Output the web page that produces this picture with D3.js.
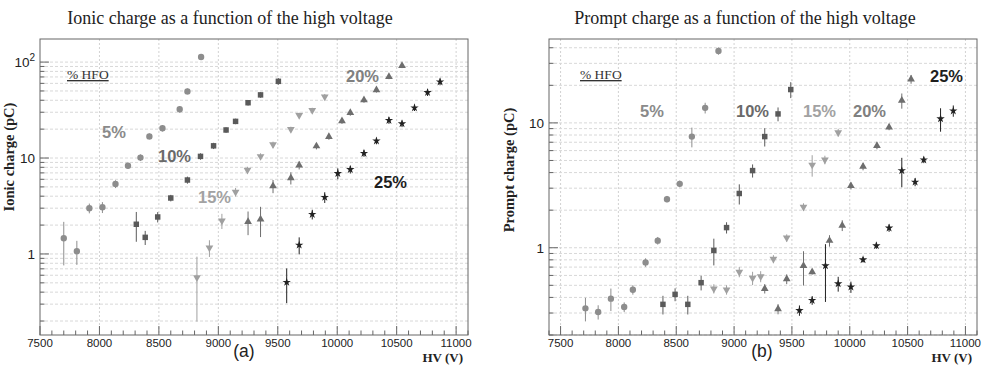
<!DOCTYPE html>
<html><head><meta charset="utf-8">
<script src="https://cdn.jsdelivr.net/npm/d3@7"></script>
<style>
html,body{margin:0;padding:0;background:#fff;}
svg{display:block;}
</style></head>
<body>
<svg id="c" width="982" height="373"></svg>
<script>
// ---------- DATA ----------
const groups = ["5%", "10%", "15%", "20%", "25%"];
const xTicks = [7500, 8000, 8500, 9000, 9500, 10000, 10500, 11000];

// Ionic charge (a)
const ionicV5  = [7700, 7810, 7915, 8025, 8135, 8240, 8345, 8420, 8530, 8675, 8740, 8855];
const ionicQ5  = [1.46, 1.07, 3.0, 3.07, 5.36, 8.3, 10.1, 16.8, 20.4, 32.2, 49.5, 113];
const ionicE5  = [0.7, 0.3, 0.35, 0.4, 0.5, 0.6, 0.8, 1.2, 1.5, 2.5, 3.5, 6];
const ionicV10 = [8310, 8385, 8490, 8600, 8740, 8850, 8960, 9065, 9145, 9250, 9355, 9505];
const ionicQ10 = [2.04, 1.49, 2.43, 3.83, 5.9, 10.4, 13.4, 19.6, 24.1, 37.7, 45.5, 63];
const ionicE10 = [0.7, 0.25, 0.3, 0.3, 0.5, 0.8, 1, 1.3, 1.6, 2.5, 3, 5];
const ionicV15 = [8820, 8925, 9030, 9145, 9245, 9355, 9460, 9610, 9680, 9790, 9895];
const ionicQ15 = [0.567, 1.16, 2.22, 4.42, 7.5, 10.4, 13.8, 19.9, 27.9, 31.4, 43.5];
const ionicE15 = [0.37, 0.23, 0.4, 0.45, 0.6, 0.8, 1, 1.3, 1.8, 2, 3];
const ionicV20 = [9250, 9355, 9460, 9610, 9680, 9825, 9930, 10040, 10110, 10225, 10330, 10435, 10545];
const ionicQ20 = [2.17, 2.30, 5.1, 6.2, 8.4, 13.3, 16.7, 24.3, 29.6, 40.2, 51.1, 70.3, 91.5];
const ionicE20 = [0.6, 0.8, 0.8, 0.9, 0.8, 1, 1.2, 1.6, 2, 2.5, 3, 4, 5];
const ionicV25 = [9575, 9680, 9790, 9895, 10005, 10110, 10225, 10330, 10435, 10545, 10650, 10760, 10865];
const ionicQ25 = [0.507, 1.24, 2.59, 3.9, 6.9, 7.6, 11.2, 15.1, 24.7, 22.8, 33.4, 48.3, 62.3];
const ionicE25 = [0.2, 0.25, 0.3, 0.5, 0.9, 0.7, 0.9, 1.2, 2, 1.8, 2.5, 4, 5];

// Prompt charge (b)
const promptV5  = [7715, 7825, 7935, 8050, 8125, 8235, 8340, 8420, 8530, 8635, 8750, 8865];
const promptQ5  = [0.327, 0.306, 0.391, 0.335, 0.461, 0.763, 1.14, 2.45, 3.25, 7.77, 13.2, 37.7];
const promptE5  = [0.07, 0.04, 0.08, 0.03, 0.04, 0.06, 0.08, 0.15, 0.2, 1.4, 1.3, 2.5];
const promptV10 = [8385, 8490, 8600, 8715, 8825, 8935, 9045, 9160, 9265, 9380, 9490];
const promptQ10 = [0.352, 0.423, 0.352, 0.525, 0.952, 1.45, 2.72, 4.15, 7.77, 11.8, 18.5];
const promptE10 = [0.06, 0.05, 0.06, 0.07, 0.23, 0.15, 0.5, 0.5, 1.3, 1.5, 2.7];
const promptV15 = [8825, 8935, 9045, 9160, 9230, 9340, 9455, 9600, 9675, 9785, 9900];
const promptQ15 = [0.47, 0.461, 0.64, 0.572, 0.589, 0.812, 1.20, 2.12, 4.61, 5.06, 8.37];
const promptE15 = [0.04, 0.04, 0.06, 0.07, 0.06, 0.06, 0.08, 0.15, 0.9, 0.4, 0.6];
const promptV20 = [9265, 9380, 9455, 9600, 9675, 9825, 9935, 10010, 10115, 10235, 10340, 10450, 10530];
const promptQ20 = [0.47, 0.323, 0.561, 0.718, 0.64, 1.14, 1.51, 3.13, 4.47, 6.55, 9.24, 15.1, 22.4];
const promptE20 = [0.04, 0.03, 0.05, 0.22, 0.03, 0.12, 0.15, 0.2, 0.3, 0.4, 0.5, 2.1, 1.8];
const promptV25 = [9565, 9675, 9790, 9900, 10010, 10115, 10230, 10340, 10450, 10565, 10640, 10785, 10895];
const promptQ25 = [0.315, 0.379, 0.718, 0.515, 0.485, 0.802, 1.04, 1.44, 4.15, 3.36, 5.06, 10.8, 12.5];
const promptE25 = [0.03, 0.03, 0.35, 0.07, 0.05, 0.04, 0.06, 0.1, 1.1, 0.25, 0.3, 2.3, 1.3];

// ---------- STYLE ----------
const groupColors = ["#8d8d8d", "#5a5a5a", "#a0a0a0", "#6e6e6e", "#222222"];
const labelColors = ["#8a8a8a", "#6a6a6a", "#a2a2a2", "#808080", "#1e1e1e"];
const symbols = [
  {type: d3.symbolCircle, size: 32, rot: 0},
  {type: d3.symbolSquare, size: 30, rot: 0},
  {type: d3.symbolTriangle, size: 26, rot: 180},
  {type: d3.symbolTriangle, size: 26, rot: 0},
  {type: d3.symbolStar, size: 22, rot: 0}
];

const svg = d3.select("#c");

function pack(Vs, Qs, Es) {
  return Vs.map((V, g) => V.map((v, i) => ({v, q: Qs[g][i], e: Es[g][i]})));
}

function drawPanel(cfg) {
  const {x0, x1, y0, y1, xDom, yDom, series, title, titleX, ylabel, ylabelX, ylabelY,
         panelTag, tagX, yMajors, yLabelFmt, hfoX, labels} = cfg;
  const x = d3.scaleLinear().domain(xDom).range([x0, x1]);
  const y = d3.scaleLog().domain(yDom).range([y1, y0]);
  const g = svg.append("g");

  // grid - vertical
  g.selectAll(".gx").data(xTicks.filter(t => x(t) > x0 + 1 && x(t) < x1 - 1)).enter()
    .append("line").attr("x1", d => x(d)).attr("x2", d => x(d))
    .attr("y1", y0).attr("y2", y1)
    .attr("stroke", "#d2d2d2").attr("stroke-width", 1).attr("stroke-dasharray", "2,2");

  // minor log positions
  const logTicks = [];
  for (let k = -2; k <= 3; k++) for (let m = 1; m <= 9; m++) {
    const val = m * Math.pow(10, k);
    if (val >= yDom[0] && val <= yDom[1]) logTicks.push({val, major: m === 1});
  }
  g.selectAll(".gy").data(logTicks).enter()
    .append("line").attr("x1", x0).attr("x2", x1)
    .attr("y1", d => y(d.val)).attr("y2", d => y(d.val))
    .attr("stroke", "#d8d8d8").attr("stroke-width", 1).attr("stroke-dasharray", "3,2");

  // frame
  g.append("rect").attr("x", x0).attr("y", y0).attr("width", x1 - x0).attr("height", y1 - y0)
    .attr("fill", "none").attr("stroke", "#666").attr("stroke-width", 1);

  // x axis ticks (inside, upward)
  const xMinor = d3.range(xDom[0], xDom[1] + 1, 100).filter(t => t >= xDom[0] && t <= xDom[1]);
  g.selectAll(".xt").data(xMinor).enter().append("line")
    .attr("x1", d => x(d)).attr("x2", d => x(d))
    .attr("y1", y1).attr("y2", d => y1 - (d % 500 === 0 ? 9 : 4.5))
    .attr("stroke", "#666").attr("stroke-width", 1);
  g.selectAll(".xl").data(xTicks).enter().append("text")
    .attr("x", d => x(d)).attr("y", y1 + 12)
    .attr("text-anchor", "middle").attr("font-family", "Liberation Sans, Arial, sans-serif")
    .attr("font-size", 11.5).attr("fill", "#222").text(d => d);

  // y axis ticks (inside, rightward)
  g.selectAll(".yt").data(logTicks).enter().append("line")
    .attr("x1", x0).attr("x2", d => x0 + (d.major ? 9 : 4.5))
    .attr("y1", d => y(d.val)).attr("y2", d => y(d.val))
    .attr("stroke", "#666").attr("stroke-width", 1);
  yMajors.forEach(m => {
    const t = g.append("text").attr("x", x0 - 5).attr("y", y(m) + 5)
      .attr("text-anchor", "end").attr("font-family", "Liberation Sans, Arial, sans-serif")
      .attr("font-size", 13.5).attr("fill", "#222");
    yLabelFmt(t, m);
  });

  // titles
  svg.append("text").attr("x", titleX).attr("y", 24).attr("text-anchor", "middle")
    .attr("font-family", "Liberation Serif, Times New Roman, serif").attr("font-size", 18)
    .attr("fill", "#222").text(title);
  svg.append("text").attr("transform", `translate(${ylabelX},${ylabelY}) rotate(-90)`)
    .attr("text-anchor", "middle").attr("font-family", "Liberation Serif, Times New Roman, serif")
    .attr("font-weight", "bold").attr("font-size", 14.5).attr("fill", "#222").text(ylabel);
  svg.append("text").attr("x", x1 - 5).attr("y", 362).attr("text-anchor", "end")
    .attr("font-family", "Liberation Serif, Times New Roman, serif")
    .attr("font-weight", "bold").attr("font-size", 13).attr("fill", "#222").text("HV (V)");
  svg.append("text").attr("x", tagX).attr("y", 357).attr("text-anchor", "middle")
    .attr("font-family", "Liberation Sans, Arial, sans-serif")
    .attr("font-size", 17.5).attr("fill", "#222").text(panelTag);

  // % HFO
  svg.append("text").attr("x", hfoX).attr("y", 79)
    .attr("font-family", "Liberation Serif, Times New Roman, serif")
    .attr("font-size", 13.5).attr("fill", "#333").attr("text-decoration", "underline").text("% HFO");

  // group labels
  labels.forEach((L, i) => {
    svg.append("text").attr("x", L[0]).attr("y", L[1])
      .attr("font-family", "Liberation Sans, Arial, sans-serif").attr("font-weight", "bold")
      .attr("font-size", 16.5).attr("fill", labelColors[i]).text(groups[i]);
  });

  // series: error bars + markers
  series.forEach((s, gi) => {
    const sg = g.append("g");
    sg.selectAll("line").data(s).enter().append("line")
      .attr("x1", d => x(d.v)).attr("x2", d => x(d.v))
      .attr("y1", d => y(Math.max(d.q - d.e, yDom[0])))
      .attr("y2", d => y(Math.min(d.q + d.e, yDom[1])))
      .attr("stroke", groupColors[gi]).attr("stroke-width", 1);
    const sym = d3.symbol().type(symbols[gi].type).size(symbols[gi].size);
    sg.selectAll("path").data(s).enter().append("path")
      .attr("d", sym)
      .attr("transform", d => `translate(${x(d.v)},${y(d.q)}) rotate(${symbols[gi].rot})`)
      .attr("fill", groupColors[gi]);
  });
}

function fmtIonic(t, m) {
  if (m === 100) {
    t.text("10");
    t.append("tspan").attr("dy", -6).attr("font-size", 10).text("2");
  } else t.text(String(m));
}
function fmtPrompt(t, m) { t.text(String(m)); }

drawPanel({
  x0: 40, x1: 468, y0: 39, y1: 335,
  xDom: [7500, 11100], yDom: [0.143, 174],
  series: pack([ionicV5, ionicV10, ionicV15, ionicV20, ionicV25],
               [ionicQ5, ionicQ10, ionicQ15, ionicQ20, ionicQ25],
               [ionicE5, ionicE10, ionicE15, ionicE20, ionicE25]),
  title: "Ionic charge as a function of the high voltage", titleX: 230,
  ylabel: "Ionic charge (pC)", ylabelX: 14, ylabelY: 157,
  panelTag: "(a)", tagX: 244, yMajors: [1, 10, 100], yLabelFmt: fmtIonic, hfoX: 67,
  labels: [[102, 138], [158, 162], [198, 203], [346, 82], [374, 188]]
});

drawPanel({
  x0: 549, x1: 977, y0: 39, y1: 335,
  xDom: [7400, 11100], yDom: [0.2, 47],
  series: pack([promptV5, promptV10, promptV15, promptV20, promptV25],
               [promptQ5, promptQ10, promptQ15, promptQ20, promptQ25],
               [promptE5, promptE10, promptE15, promptE20, promptE25]),
  title: "Prompt charge as a function of the high voltage", titleX: 745,
  ylabel: "Prompt charge (pC)", ylabelX: 514, ylabelY: 170,
  panelTag: "(b)", tagX: 762, yMajors: [1, 10], yLabelFmt: fmtPrompt, hfoX: 580,
  labels: [[640, 117], [736, 117], [803, 117], [853, 117], [930, 82]]
});
</script>
</body></html>
